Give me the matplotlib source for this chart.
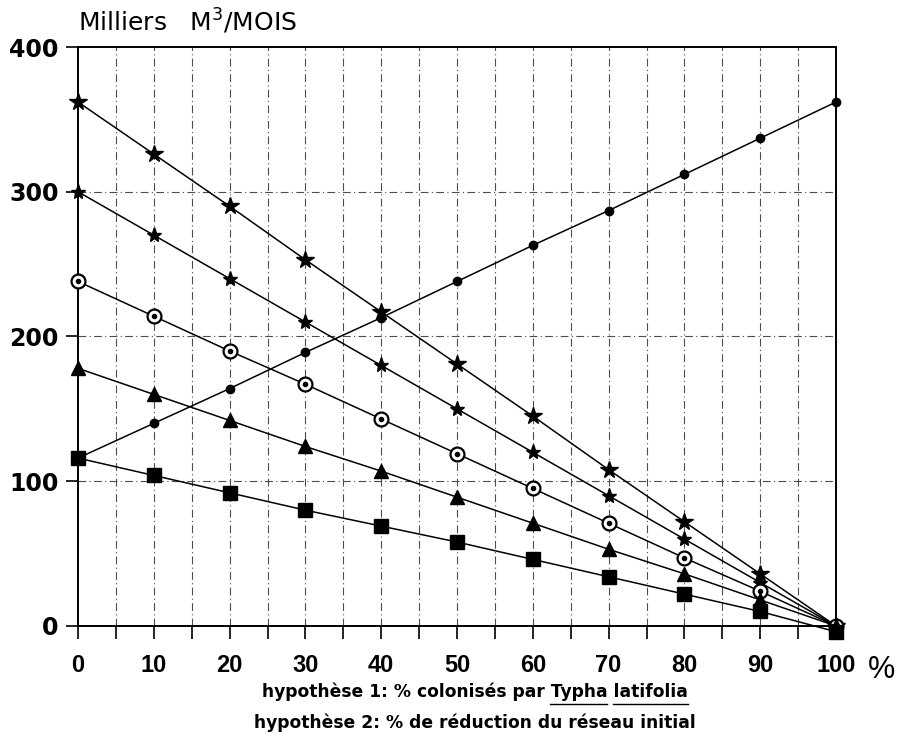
import matplotlib
matplotlib.use("Agg")
import matplotlib.pyplot as plt
import numpy as np

# pourcentages (hypothese 1 / hypothese 2)
pct = [0, 10, 20, 30, 40, 50, 60, 70, 80, 90, 100]

# debits en milliers de m3 / mois
etoile_grande = [362, 326, 290, 253, 217, 181, 145, 108, 72, 36, 0]
etoile_petite = [300, 270, 240, 210, 180, 150, 120, 90, 60, 30, 0]
cercle = [238, 214, 190, 167, 143, 119, 95, 71, 47, 24, 0]
triangle = [178, 160, 142, 124, 107, 89, 71, 53, 36, 18, 0]
carre = [116, 104, 92, 80, 69, 58, 46, 34, 22, 10, -4]
point = [116, 140, 164, 189, 213, 238, 263, 287, 312, 337, 362]

yticks = [0, 100, 200, 300, 400]

plt.rcParams['font.family'] = ['Liberation Sans', 'DejaVu Sans']

fig = plt.figure(figsize=(9.04, 7.38), dpi=100)
ax = fig.add_axes([0.0863, 0.1518, 0.9248 - 0.0863, 0.9363 - 0.1518])

# grille en traits mixtes
for gx in range(5, 100, 5):
    ax.axvline(gx, color="0.3", lw=0.8, ls=(0, (7, 3, 1, 3)), zorder=1)
for gy in [100, 200, 300]:
    ax.axhline(gy, color="0.3", lw=0.8, ls=(0, (7, 3, 1, 3)), zorder=1)

kw = dict(color="black", lw=1.1, zorder=3, clip_on=False)
ax.plot(pct, etoile_grande, marker="*", ms=13, **kw)
ax.plot(pct, etoile_petite, marker="*", ms=11, **kw)
ax.plot(pct, cercle, marker="o", ms=10, mfc="white", mec="black", mew=1.6, **kw)
ax.plot(pct, cercle, ls="none", marker="o", ms=3, color="black", zorder=4, clip_on=False)
ax.plot(pct, triangle, marker="^", ms=10, **kw)
ax.plot(pct, carre, marker="s", ms=10, **kw)
ax.plot(pct, point, marker="o", ms=6, **kw)

ax.set_xlim(0, 100)
ax.set_ylim(0, 400)
ax.set_xticks(range(0, 101, 5))
ax.set_xticklabels([str(v) if v % 10 == 0 else "" for v in range(0, 101, 5)])
ax.set_yticks(yticks)
ax.tick_params(axis="both", direction="out", length=9, width=1.2)
ax.tick_params(axis="x", pad=11, labelsize=17)
ax.tick_params(axis="y", pad=5, labelsize=17)
for lab in ax.get_xticklabels():
    lab.set_fontweight("bold")
for lab in ax.get_yticklabels():
    lab.set_fontfamily("DejaVu Sans")
    lab.set_fontweight("bold")
for sp in ax.spines.values():
    sp.set_linewidth(1.4)

fig.text(0.086, 0.99, "Milliers   M$^3$/MOIS", fontsize=18, family="DejaVu Sans",
         va="top", ha="left")
fig.text(0.975, 0.092, "%", fontsize=22, ha="center", va="center")

# legendes du bas avec soulignement
ligne1 = "hypothèse 1: % colonisés par Typha latifolia"
ligne2 = "hypothèse 2: % de réduction du réseau initial"
xc = 0.525
fs = 12.3
fam = "DejaVu Sans"
fig.text(xc, 0.055, ligne1, fontsize=fs, fontweight="bold", family=fam, ha="center", va="baseline")
fig.text(xc, 0.014, ligne2, fontsize=fs, fontweight="bold", family=fam, ha="center", va="baseline")

fig.canvas.draw()
r = fig.canvas.get_renderer()


def largeur(s):
    t = fig.text(0, 0, s, fontsize=fs, fontweight="bold", family=fam)
    w = t.get_window_extent(r).width
    t.remove()
    return w


W = largeur(ligne1)
x0 = xc * fig.bbox.width - W / 2
for mot in ["Typha", "latifolia"]:
    i = ligne1.index(mot)
    a = x0 + largeur(ligne1[:i] + "x") - largeur("x")
    b = x0 + largeur(ligne1[:i + len(mot)])
    yb = 0.055 * fig.bbox.height - 7
    fig.add_artist(plt.Line2D([a / fig.bbox.width, b / fig.bbox.width],
                              [yb / fig.bbox.height] * 2, color="black", lw=1.0,
                              transform=fig.transFigure))

fig.savefig("out.png", dpi=100)
